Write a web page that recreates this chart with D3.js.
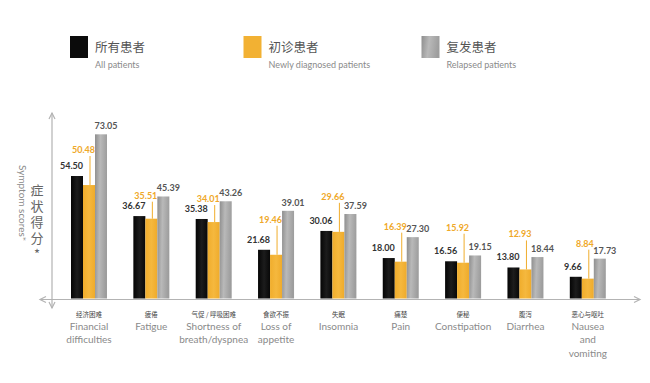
<!DOCTYPE html>
<html><head><meta charset="utf-8">
<script src="https://cdn.jsdelivr.net/npm/d3@7/dist/d3.min.js"></script>
<style>body{margin:0;background:#fff}svg{display:block}</style>
</head><body><div id="c"></div>
<script>
const categoriesZh = ["经济困难","疲倦","气促 / 呼吸困难","食欲不振","失眠","痛楚","便秘","腹泻","恶心与呕吐"];
const categoriesEn = [["Financial","difficulties"],["Fatigue"],["Shortness of","breath/dyspnea"],["Loss of","appetite"],["Insomnia"],["Pain"],["Constipation"],["Diarrhea"],["Nausea","and","vomiting"]];
const seriesKeys = ["all","newly","relapsed"];
const seriesZh = ["所有患者","初诊患者","复发患者"];
const seriesEn = ["All patients","Newly diagnosed patients","Relapsed patients"];
const allPatients = [54.50,36.67,35.38,21.68,30.06,18.00,16.56,13.80,9.66];
const newlyDiagnosed = [50.48,35.51,34.01,19.46,29.66,16.39,15.92,12.93,8.84];
const relapsed = [73.05,45.39,43.26,39.01,37.59,27.30,19.15,18.44,17.73];
const valueLabels = {all:["54.50","36.67","35.38","21.68","30.06","18.00","16.56","13.80","9.66"],
  newly:["50.48","35.51","34.01","19.46","29.66","16.39","15.92","12.93","8.84"],
  relapsed:["73.05","45.39","43.26","39.01","37.59","27.30","19.15","18.44","17.73"]};
const yTitleZh = "症状得分*";
const yTitleEn = "Symptom scores*";

// layout (not data)
const orangeLift = [32,20,20,32,32,32,32,32,32];

const W=650,H=383;
const svg=d3.select("#c").append("svg").attr("width",W).attr("height",H);
const defs=svg.append("defs");
const gg=defs.append("linearGradient").attr("id","gray").attr("x1","0").attr("x2","1").attr("y1","0").attr("y2","0.15");
gg.append("stop").attr("offset","0").attr("stop-color","#8e8e8e");
gg.append("stop").attr("offset","0.45").attr("stop-color","#b9b9b9");
gg.append("stop").attr("offset","1").attr("stop-color","#9d9d9d");
const bg=defs.append("linearGradient").attr("id","blk").attr("x1","0").attr("x2","1");
bg.append("stop").attr("offset","0").attr("stop-color","#050505");
bg.append("stop").attr("offset","0.5").attr("stop-color","#1c1c1c");
bg.append("stop").attr("offset","1").attr("stop-color","#080808");
const og=defs.append("linearGradient").attr("id","org").attr("x1","0").attr("x2","1");
og.append("stop").attr("offset","0").attr("stop-color","#f0ad2c");
og.append("stop").attr("offset","0.5").attr("stop-color","#f5b83e");
og.append("stop").attr("offset","1").attr("stop-color","#efab2b");
const fills={all:"url(#blk)",newly:"url(#org)",relapsed:"url(#gray)"};
const legendFills=["#0b0b0b","#f2b133","url(#gray)"];

const y=d3.scaleLinear().domain([0,80]).range([298.5,118.7]);
const x0=d3.scaleBand().domain(d3.range(categoriesZh.length)).range([71,605.8]).paddingInner(0.4226).paddingOuter(0);
const x1=d3.scaleBand().domain(seriesKeys).range([0,x0.bandwidth()]).padding(0);

const data=categoriesZh.map((c,i)=>({i,vals:{all:allPatients[i],newly:newlyDiagnosed[i],relapsed:relapsed[i]}}));

// axes
const axisCol="#b3b3b3";
const ax=svg.append("g").attr("stroke",axisCol).attr("stroke-width",1.2).attr("fill","none");
const yAxX=52, xAxY=y(0)+1;
ax.append("line").attr("x1",yAxX).attr("x2",yAxX).attr("y1",113).attr("y2",308);
ax.append("path").attr("d",`M${yAxX-3},${119}L${yAxX},${113}L${yAxX+3},${119}`);
ax.append("path").attr("d",`M${yAxX-3},${302}L${yAxX},${308}L${yAxX+3},${302}`);
ax.append("line").attr("x1",40).attr("x2",640).attr("y1",xAxY).attr("y2",xAxY);
ax.append("path").attr("d",`M${634},${xAxY-3}L${640},${xAxY}L${634},${xAxY+3}`);
ax.append("path").attr("d",`M${46},${xAxY-3}L${40},${xAxY}L${46},${xAxY+3}`);

// bars
const groups=svg.append("g").selectAll("g").data(data).join("g").attr("transform",d=>`translate(${x0(d.i)},0)`);
groups.selectAll("rect").data(d=>seriesKeys.map(k=>({k,v:d.vals[k]}))).join("rect")
  .attr("x",d=>x1(d.k)).attr("width",x1.bandwidth()).attr("y",d=>y(d.v)).attr("height",d=>y(0)-y(d.v))
  .attr("fill",d=>fills[d.k]);

const lblFont="Lato, 'Open Sans', sans-serif";
// black labels
groups.append("text").attr("x",x1("all")+x1.bandwidth()).attr("y",d=>y(d.vals.all)-7)
  .attr("text-anchor","end").attr("font-family",lblFont).attr("font-weight",700).attr("font-size",9)
  .attr("fill","#333").text(d=>valueLabels.all[d.i]);
// gray labels
groups.append("text").attr("x",x1("relapsed")-0.5).attr("y",d=>y(d.vals.relapsed)-5)
  .attr("text-anchor","start").attr("font-family",lblFont).attr("font-weight",700).attr("font-size",9)
  .attr("fill","#555").text(d=>valueLabels.relapsed[d.i]);
// orange labels with leader
groups.append("line").attr("x1",x1("newly")+x1.bandwidth()/2+1).attr("x2",x1("newly")+x1.bandwidth()/2+1)
  .attr("y1",d=>y(d.vals.newly)-orangeLift[d.i]+3).attr("y2",d=>y(d.vals.newly))
  .attr("stroke","#f0ad2c").attr("stroke-width",1);
groups.append("text").attr("x",x1("newly")+x1.bandwidth()).attr("y",d=>y(d.vals.newly)-orangeLift[d.i])
  .attr("text-anchor","end").attr("font-family",lblFont).attr("font-weight",700).attr("font-size",9)
  .attr("fill","#efa829").text(d=>valueLabels.newly[d.i]);

// category labels
groups.append("text").attr("x",x0.bandwidth()/2).attr("y",317).attr("text-anchor","middle")
  .attr("font-family","'Noto Sans CJK SC', sans-serif").attr("font-size",6.5).attr("fill","#444").text(d=>categoriesZh[d.i]);
groups.each(function(d){
  const g=d3.select(this);
  categoriesEn[d.i].forEach((t,j)=>{
    g.append("text").attr("x",x0.bandwidth()/2).attr("y",330+j*13.3).attr("text-anchor","middle")
     .attr("font-family",lblFont).attr("font-size",10).attr("fill","#8a8a8a").text(t);
  });
});

// y label (vertical Chinese as one text)
svg.append("text").attr("x",37).attr("y",184)
  .style("writing-mode","vertical-rl").style("text-orientation","upright")
  .attr("font-family","'Noto Sans CJK SC', sans-serif").attr("font-size",13).attr("letter-spacing",3)
  .attr("fill","#666").text(yTitleZh);
svg.append("text").attr("transform","translate(19,203) rotate(90)").attr("text-anchor","middle")
  .attr("font-family",lblFont).attr("font-size",10).attr("fill","#8a8a8a").text(yTitleEn);

// legend
const legX=[70,243.5,421.5];
const leg=svg.append("g").selectAll("g").data(seriesKeys).join("g").attr("transform",(d,i)=>`translate(${legX[i]},36)`);
leg.append("rect").attr("width",18).attr("height",22).attr("fill",(d,i)=>legendFills[i]);
leg.append("text").attr("x",25).attr("y",15.5).attr("font-family","'Noto Sans CJK SC', sans-serif").attr("font-size",12.5)
  .attr("fill","#555").text((d,i)=>seriesZh[i]);
leg.append("text").attr("x",25).attr("y",32).attr("font-family",lblFont).attr("font-size",9)
  .attr("fill","#8a8a8a").text((d,i)=>seriesEn[i]);
</script></body></html>
